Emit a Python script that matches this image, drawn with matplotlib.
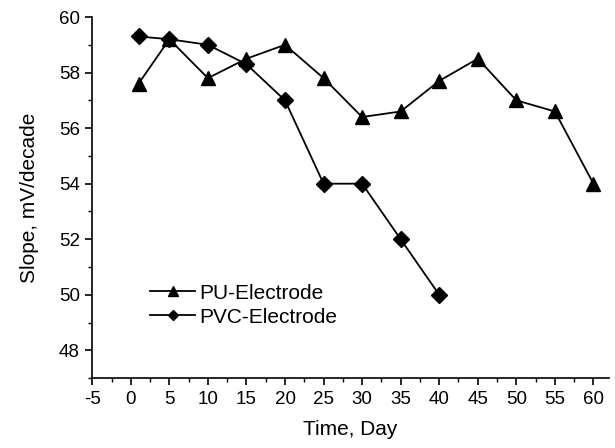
import matplotlib
matplotlib.use("Agg")
import matplotlib.pyplot as plt
from matplotlib.ticker import MultipleLocator

plt.rcParams["font.family"] = ["Liberation Sans", "DejaVu Sans"]
plt.rcParams["axes.unicode_minus"] = False

# 数据
pu_days = [1, 5, 10, 15, 20, 25, 30, 35, 40, 45, 50, 55, 60]
pu_slope = [57.6, 59.2, 57.8, 58.5, 59.0, 57.8, 56.4, 56.6, 57.7, 58.5, 57.0, 56.6, 54.0]
pvc_days = [1, 5, 10, 15, 20, 25, 30, 35, 40]
pvc_slope = [59.3, 59.2, 59.0, 58.3, 57.0, 54.0, 54.0, 52.0, 50.0]

fig = plt.figure(figsize=(6.15, 4.48), dpi=100)
ax = fig.add_axes([0.15, 0.156, 0.84, 0.806])

ax.plot(pu_days, pu_slope, color="black", linewidth=1.3, marker="^", markersize=10, label="PU-Electrode")
ax.plot(pvc_days, pvc_slope, color="black", linewidth=1.3, marker="D", markersize=8.5, label="PVC-Electrode")

ax.set_xlim(-5, 62)
ax.set_ylim(47, 60)
ax.xaxis.set_major_locator(MultipleLocator(5))
ax.xaxis.set_minor_locator(MultipleLocator(2.5))
ax.yaxis.set_major_locator(MultipleLocator(2))
ax.yaxis.set_minor_locator(MultipleLocator(1))
ax.tick_params(which="major", direction="out", length=5, width=1.2, labelsize=13.5, pad=4)
ax.tick_params(which="minor", direction="out", length=3, width=1.0)

ax.spines["top"].set_visible(False)
ax.spines["right"].set_visible(False)
ax.spines["left"].set_linewidth(1.2)
ax.spines["bottom"].set_linewidth(1.2)

ax.set_xlabel("Time, Day", fontsize=15, labelpad=9)
ax.set_ylabel("Slope, mV/decade", fontsize=15, labelpad=14)

ax.legend(loc="center left", bbox_to_anchor=(0.095, 0.202), frameon=False, fontsize=15,
          handlelength=2.2, handletextpad=0.2, labelspacing=0.25, markerscale=0.65,
          borderaxespad=0)

fig.savefig("out.png", dpi=100)
